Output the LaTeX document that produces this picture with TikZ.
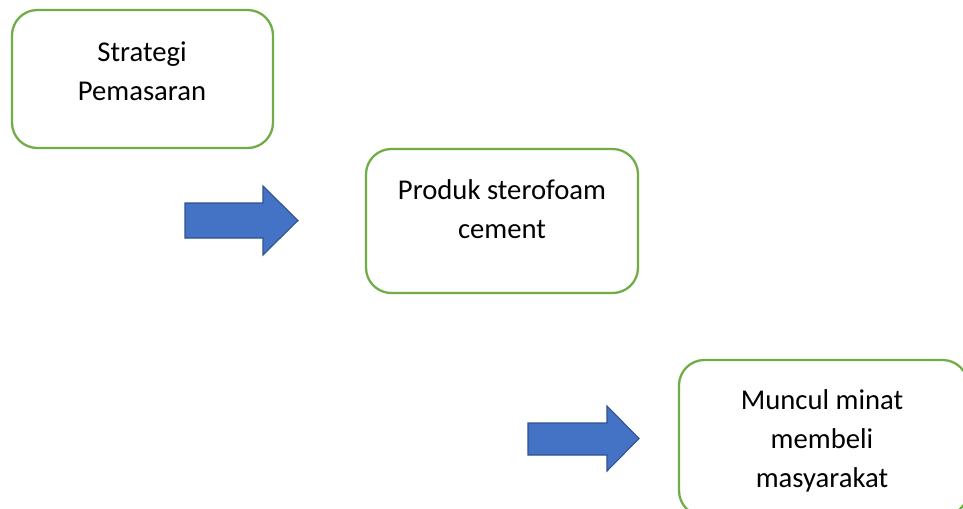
\documentclass[tikz,border=0pt]{standalone}
\usepackage{fontspec}
\setmainfont{Carlito}
\usepackage{tikz}
\usetikzlibrary{positioning}
\definecolor{hijau}{HTML}{70AD47}
\definecolor{biru}{HTML}{4472C4}
\definecolor{birutua}{HTML}{2F528F}

\begin{document}
\begin{tikzpicture}[x=0.75pt, y=-0.75pt,
    kotak/.style={draw=hijau, line width=1.7pt, rounded corners=19pt, fill=white},
    teks/.style={align=center, font=\fontsize{21.5}{29}\selectfont},
    panah/.style={fill=biru, draw=birutua, line width=0.8pt, line join=miter}]
    \clip (0, 0) rectangle (963, 508);
    \fill[white] (0, 0) rectangle (963, 508);
    \node[kotak, minimum width=195.75pt, minimum height=103.5pt] (strategi) at (142.5, 79) {};
    \node[teks] (strategiteks) at (142, 71) {Strategi\\Pemasaran};
    \node[kotak, minimum width=216.75pt, minimum height=117pt] (minat) at (823.5, 438) {};
    \node[teks] (minatteks) at (822, 441) {Muncul minat\\membeli\\masyarakat};
    \node[kotak, minimum width=204pt, minimum height=108pt] (produk) at (502, 221) {};
    \node[teks] (produkteks) at (502, 209) {Produk sterofoam\\cement};
    \draw[panah] (185, 203) -- (263, 203) -- (263, 186) -- (298, 220.5) -- (263, 255) -- (263, 238) -- (185, 238) -- cycle;
    \draw[panah] (528, 423) -- (607, 423) -- (607, 406) -- (639, 438.5) -- (607, 471) -- (607, 455) -- (528, 455) -- cycle;
\end{tikzpicture}
\end{document}
